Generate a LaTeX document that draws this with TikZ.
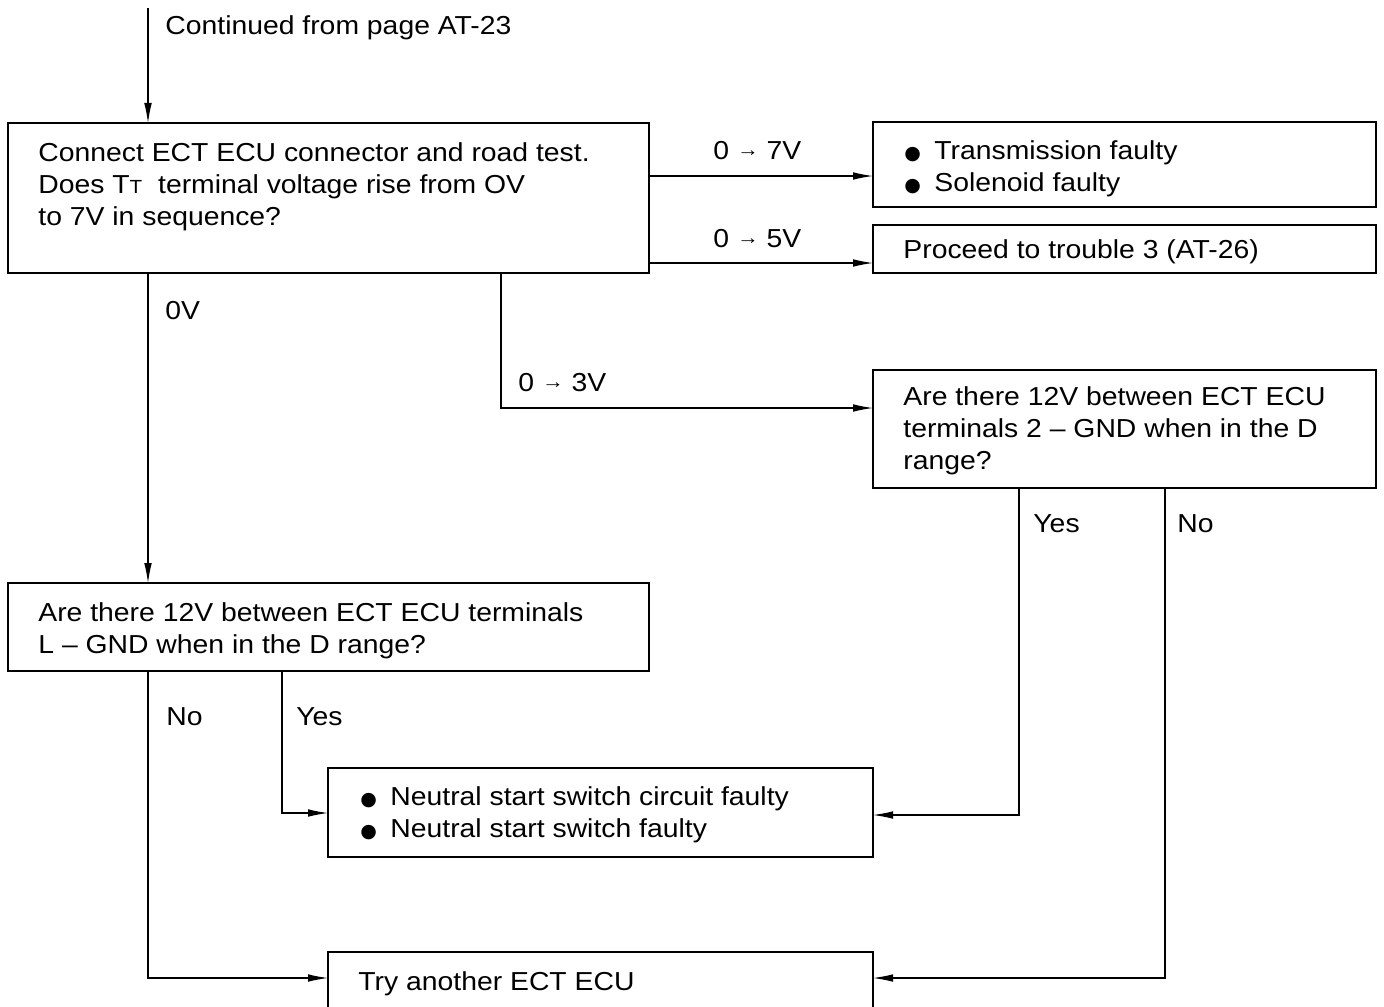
\documentclass[tikz,border=0pt]{standalone}
\usepackage{fontspec}
\setmainfont{Liberation Sans}[FakeStretch=1.09]
\newfontfamily\dv{DejaVu Sans}
\usetikzlibrary{arrows.meta}
\newcommand{\bul}{\makebox[15pt][l]{\dv\fontsize{9.5}{10}\selectfont ●}}
\newcommand{\rarr}{\raisebox{1.2pt}{\fontsize{10}{10}\selectfont →}}
\newcommand{\smT}{{\fontsize{9.5}{9.5}\selectfont T}}
\begin{document}
\begin{tikzpicture}[x=0.5pt,y=-0.5pt, font=\fontsize{13}{16}\selectfont,
  box/.style={draw, line width=0.8pt, inner sep=0pt, outer sep=0pt},
  txt/.style={anchor=base west, inner sep=0pt, align=left},
  arr/.style={line width=0.55pt, -{Latex[length=10pt,width=3.8pt]}}]
\useasboundingbox (0,0) rectangle (1384,1006);
% boxes
\node[box, minimum width=320.5pt, minimum height=75pt] (b1) at (328.5,198) {};
\node[box, minimum width=251.5pt, minimum height=42.5pt] (b2) at (1124.5,164.5) {};
\node[box, minimum width=251.5pt, minimum height=24pt] (b3) at (1124.5,249) {};
\node[box, minimum width=251.5pt, minimum height=59pt] (b5) at (1124.5,429) {};
\node[box, minimum width=320.5pt, minimum height=44pt] (b4) at (328.5,627) {};
\node[box, minimum width=272.5pt, minimum height=44.5pt] (b6) at (600.5,812.5) {};
\node[box, minimum width=272.5pt, minimum height=39pt] (b7) at (600.5,991) {};
% texts (multi-line nodes: base = last line)
\coordinate (start) at (148,8);
\node[txt] (tc) at (165,35) {Continued from page AT-23};
\node[txt] (t1) at (38,225) {Connect ECT ECU connector and road test.\\Does T\smT\ \ terminal voltage rise from OV\\to 7V in sequence?};
\node[txt] (t2) at (904,191) {\bul Transmission faulty\\\bul Solenoid faulty};
\node[txt] (t3) at (903,258) {Proceed to trouble 3 (AT-26)};
\node[txt] (t5) at (903,469) {Are there 12V between ECT ECU\\terminals 2 -- GND when in the D\\range?};
\node[txt] (t4) at (38,653) {Are there 12V between ECT ECU terminals\\L -- GND when in the D range?};
\node[txt] (t6) at (360,837) {\bul Neutral start switch circuit faulty\\\bul Neutral start switch faulty};
\node[txt] (t7) at (358,990) {Try another ECT ECU};
% labels
\node[txt] (l7) at (713,159) {0 \rarr\ 7V};
\node[txt] (l5) at (713,247) {0 \rarr\ 5V};
\node[txt] (l0) at (165,319) {0V};
\node[txt] (l3) at (518,391) {0 \rarr\ 3V};
\node[txt] (y5) at (1033,532) {Yes};
\node[txt] (n5) at (1177,532) {No};
\node[txt] (n4) at (166,725) {No};
\node[txt] (y4) at (296,725) {Yes};
% connectors
\draw[arr] (start) -- (start |- b1.north);
\draw[arr] (b1.east |- 0,176) -- (b2.west |- 0,176);
\draw[arr] (b1.east |- 0,263) -- (b3.west |- 0,263);
\draw[arr] (b1.south -| 148,0) -- (b4.north -| 148,0);
\draw[arr] (b1.south -| 501,0) |- (b5.west |- 0,408);
\draw[arr] (b5.south -| 1019,0) |- (b6.east |- 0,815);
\draw[arr] (b5.south -| 1165,0) |- (b7.east |- 0,978);
\draw[arr] (b4.south -| 148,0) |- (b7.west |- 0,978);
\draw[arr] (b4.south -| 282,0) |- (b6.west |- 0,813);
\end{tikzpicture}
\end{document}
